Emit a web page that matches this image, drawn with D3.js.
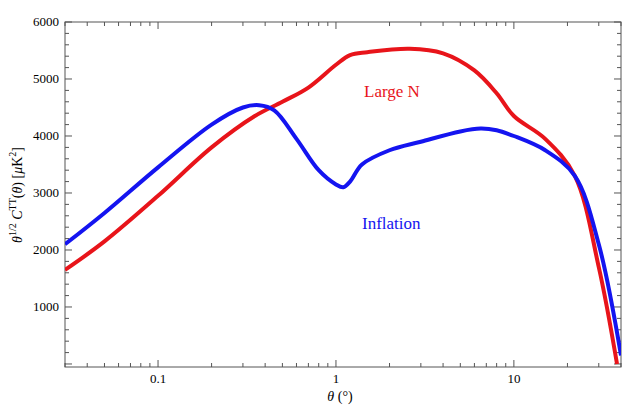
<!DOCTYPE html><html><head><script src="https://cdn.jsdelivr.net/npm/d3@7"></script>
<style>body{margin:0;background:#fff}text{font-family:"Liberation Serif",serif}</style></head><body>
<svg id="c" width="623" height="412"></svg>
<script>
const yTicks=[1000,2000,3000,4000,5000,6000];
const xTicks=[0.1,1,10];
const xTickLabels=["0.1","1","10"];
const redX=[0.03,0.05,0.1,0.2,0.35,0.5,0.7,1.0,1.2,1.5,2.6,4,6,8,10,15,22,30,38];
const redY=[1650,2150,2950,3800,4350,4600,4850,5250,5420,5470,5530,5450,5150,4750,4350,3950,3300,1700,0];
const blueX=[0.03,0.05,0.1,0.2,0.3,0.37,0.45,0.6,0.8,1.0,1.1,1.2,1.4,2,3,5,6.5,8,10,15,22,30,40];
const blueY=[2100,2650,3450,4200,4500,4540,4450,3950,3400,3150,3100,3200,3500,3750,3900,4080,4130,4100,4000,3750,3300,2100,150];
const svg=d3.select("#c");
const L=65,R=621,T=22,B=367;
const x=d3.scaleLog().domain([0.03,40]).range([L,R]);
const y=d3.scaleLinear().domain([-53,6000]).range([B,T]);
svg.append("rect").attr("x",L).attr("y",T).attr("width",R-L).attr("height",B-T).attr("fill","none").attr("stroke","#555");
const g=svg.append("g");
const minor=[];for(let d=0.01;d<100;d*=10)for(let k=1;k<10;k++){const v=d*k;if(v>=0.03&&v<=40)minor.push(v);}
minor.forEach(v=>{const big=xTicks.includes(+v.toPrecision(3));const len=big?7:4;
[[B,B-len],[T,T+len]].forEach(([a,b])=>g.append("line").attr("x1",x(v)).attr("x2",x(v)).attr("y1",a).attr("y2",b).attr("stroke","#555"));});
xTicks.forEach((v,i)=>g.append("text").attr("x",x(v)).attr("y",B+16).attr("text-anchor","middle").attr("font-size",13).text(xTickLabels[i]));
for(let v=0;v<=6000;v+=200){if(y(v)>B||y(v)<T)continue;const big=v%1000===0;const len=big?7:4;
[[L,L+len],[R,R-len]].forEach(([a,b])=>g.append("line").attr("y1",y(v)).attr("y2",y(v)).attr("x1",a).attr("x2",b).attr("stroke","#555"));}
yTicks.forEach(v=>g.append("text").attr("x",L-6).attr("y",y(v)+4).attr("text-anchor","end").attr("font-size",13).text(v));
const line=d3.line().x(d=>x(d[0])).y(d=>y(d[1])).curve(d3.curveCatmullRom.alpha(0.5));
svg.append("defs").append("clipPath").attr("id","cp").append("rect").attr("x",L).attr("y",T).attr("width",R-L).attr("height",B-T);
svg.append("path").attr("clip-path","url(#cp)").attr("d",line(redX.map((v,i)=>[v,redY[i]]))).attr("fill","none").attr("stroke","#e8141a").attr("stroke-width",4);
svg.append("path").attr("clip-path","url(#cp)").attr("d",line(blueX.map((v,i)=>[v,blueY[i]]))).attr("fill","none").attr("stroke","#1414f0").attr("stroke-width",4);
svg.append("text").attr("x",364).attr("y",97).attr("fill","#e8141a").attr("font-size",17).text("Large N");
svg.append("text").attr("x",362).attr("y",229).attr("fill","#1414f0").attr("font-size",17).text("Inflation");
svg.append("text").attr("x",340).attr("y",401).attr("text-anchor","middle").attr("font-size",14).html('<tspan font-style="italic">θ</tspan> (°)');
svg.append("text").attr("transform","translate(22,195) rotate(-90)").attr("text-anchor","middle").attr("font-size",14)
.html('<tspan font-style="italic">θ</tspan><tspan font-size="10" dy="-6">1/2</tspan><tspan dy="6"> </tspan><tspan font-style="italic">C</tspan><tspan font-size="10" dy="-6">TT</tspan><tspan dy="6">(</tspan><tspan font-style="italic">θ</tspan>)  [<tspan font-style="italic">μ</tspan>K<tspan font-size="10" dy="-6">2</tspan><tspan dy="6">]</tspan>');
</script></body></html>
